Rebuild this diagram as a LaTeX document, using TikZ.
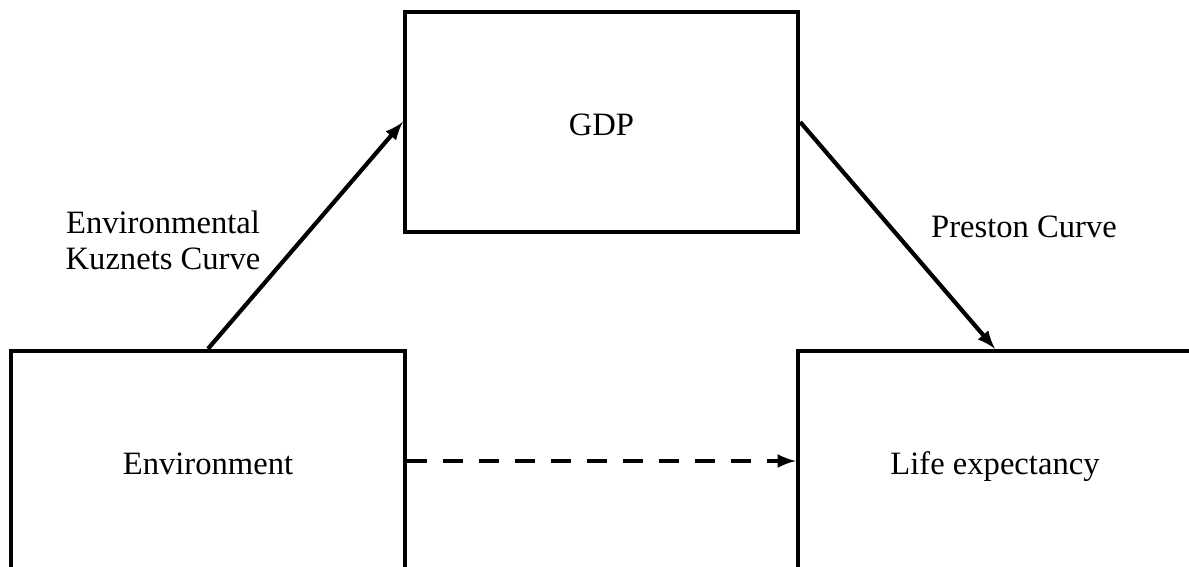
\documentclass[tikz,border=0pt]{standalone}
\usepackage{amsmath}
\usepackage{fontspec}
\setmainfont{Liberation Serif}
\usepackage{tikz}

\begin{document}
\begin{tikzpicture}[x=0.5pt,y=0.5pt]
        \useasboundingbox (0,0) rectangle (1189,567);
        \clip (0,0) rectangle (1189,567);
        \begin{scope}[every node/.style={draw=black,line width=2.2pt,rectangle,minimum width=197pt,minimum height=110pt,text height=14pt,text depth=0pt,font=\fontsize{16.3}{19}\selectfont}]
            \node[minimum width=196.5pt] (gdp) at (601.5,445) {GDP};
            \node (env) at (208,106) {Environment};
            \node (life) at (995,106) {Life expectancy};
        \end{scope}
        \begin{scope}[every node/.style={align=center,font=\fontsize{16.3}{18}\selectfont}]
            \node (ekc) at (163,327) {Environmental\\Kuznets Curve};
            \node (preston) at (1024,340) {Preston Curve};
        \end{scope}
        \begin{scope}[every edge/.style={draw,line width=2.1pt}]
            \path [-latex] (env.north) edge node {} (gdp.west);
            \path [-latex] (gdp.east) edge node {} (life.north);
            \path [-latex,dash pattern=on 10pt off 8pt] (env.east) edge node {} (life.west);
        \end{scope}
    \end{tikzpicture}
\end{document}
